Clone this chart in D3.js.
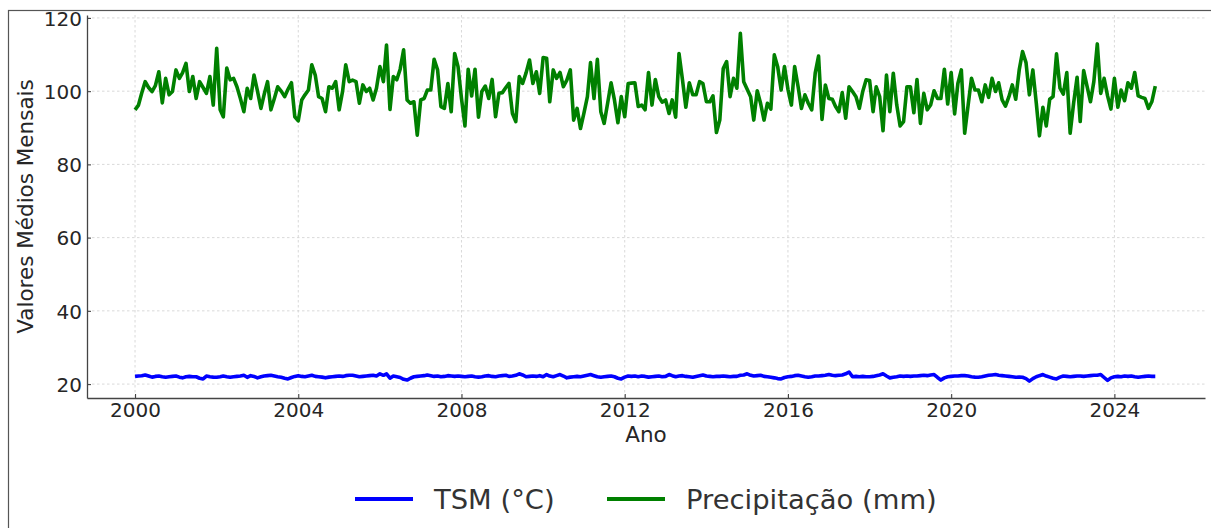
<!DOCTYPE html>
<html>
<head>
<meta charset="utf-8">
<script src="https://cdn.jsdelivr.net/npm/d3@7"></script>
<style>
  body { margin: 0; background: #fff; }
  svg { display: block; font-family: "DejaVu Sans", sans-serif; }
</style>
</head>
<body>
<svg id="chart" width="1211" height="528"></svg>
<script>
// monthly means, Jan 2000 .. Jan 2025
const startMonth = new Date(2000, 0, 1);
const endMonth = new Date(2025, 1, 1);

const tsm = [
  22.1, 22.2, 22.3, 22.5, 22.2, 21.9, 22.1, 22.2, 22.0, 21.85, 22.0, 22.1,
  22.2, 21.9, 21.7, 22.0, 22.1, 22.0, 22.0, 21.6, 21.4, 22.2, 22.0, 21.9,
  21.85, 22.0, 22.2, 22.0, 21.85, 22.0, 22.1, 22.2, 22.4, 21.85, 22.3, 22.1,
  21.7, 22.0, 22.2, 22.3, 22.4, 22.2, 22.0, 21.85, 21.6, 21.4, 21.8, 22.1,
  22.3, 22.1, 22.0, 22.2, 22.4, 22.1, 22.0, 21.9, 21.7, 21.9, 22.0, 22.1,
  22.2, 22.1, 22.3, 22.4, 22.4, 22.2, 22.0, 22.1, 22.2, 22.3, 22.4, 22.2,
  22.8, 22.4, 22.8, 21.6, 22.2, 22.0, 21.8, 21.3, 21.1, 21.6, 22.0, 22.1,
  22.2, 22.3, 22.5, 22.3, 22.1, 22.2, 22.0, 22.1, 22.3, 22.2, 22.1, 22.2,
  22.1, 22.0, 22.1, 22.2, 22.0, 21.9, 22.0, 22.2, 22.3, 22.1, 22.0, 22.2,
  22.3, 22.4, 22.1, 22.2, 22.4, 22.8, 22.5, 22.0, 22.1, 22.2, 22.1, 22.3,
  22.0, 22.6, 22.2, 22.0, 22.3, 22.6, 22.2, 21.7, 21.9, 22.0, 22.1, 22.0,
  22.2, 22.4, 22.6, 22.3, 22.0, 21.85, 22.0, 22.1, 22.2, 22.0, 21.6, 21.4,
  21.9, 22.2, 22.1, 22.2, 22.0, 22.2, 22.1, 21.9, 22.0, 22.1, 22.2, 22.0,
  22.1, 22.6, 22.3, 22.0, 22.2, 22.3, 22.1, 22.0, 21.85, 22.1, 22.3, 22.5,
  22.2, 22.1, 22.0, 22.1, 22.1, 22.2, 22.1, 22.0, 22.1, 22.1, 22.4, 22.5,
  22.8, 22.4, 22.2, 22.3, 22.4, 22.1, 22.0, 21.85, 21.7, 21.5, 21.4, 21.8,
  22.0, 22.1, 22.3, 22.4, 22.2, 22.0, 21.85, 22.0, 22.2, 22.2, 22.3, 22.4,
  22.6, 22.4, 22.3, 22.4, 22.5, 22.8, 23.3, 22.0, 22.1, 22.0, 22.1, 22.0,
  22.0, 22.1, 22.3, 22.5, 22.8, 22.2, 21.7, 21.85, 22.0, 22.2, 22.1, 22.2,
  22.1, 22.2, 22.2, 22.3, 22.4, 22.3, 22.5, 22.6, 21.8, 21.1, 21.7, 22.0,
  22.1, 22.2, 22.2, 22.3, 22.3, 22.2, 22.0, 21.9, 21.85, 22.0, 22.2, 22.4,
  22.5, 22.6, 22.4, 22.3, 22.2, 22.1, 22.0, 21.85, 21.9, 21.85, 21.5, 20.8,
  21.5, 22.0, 22.3, 22.6, 22.2, 21.9, 21.6, 21.4, 21.9, 22.2, 22.1, 22.0,
  22.1, 22.2, 22.2, 22.1, 22.2, 22.3, 22.4, 22.4, 22.6, 21.8, 21.0, 21.7,
  22.0, 22.1, 22.0, 22.2, 22.1, 22.2, 22.0, 21.85, 22.0, 22.1, 22.2, 22.1,
  22.1
];

const precip = [
  94.9, 96.2, 99.5, 102.6, 101.0, 99.9, 101.5, 105.3, 96.8, 103.5, 99.0, 99.9,
  105.8, 103.5, 105.0, 107.6, 99.9, 104.0, 98.0, 102.6, 101.0, 99.4, 104.0, 96.2,
  111.7, 94.9, 93.0, 106.3, 103.1, 103.5, 101.2, 98.0, 94.4, 100.8, 98.0, 104.4,
  100.0, 95.3, 99.0, 102.6, 94.9, 98.0, 101.2, 100.0, 98.5, 100.5, 102.3, 93.0,
  91.9, 97.6, 99.0, 100.3, 107.2, 104.4, 98.5, 98.0, 94.4, 101.2, 100.8, 102.6,
  94.9, 100.0, 107.2, 102.6, 103.0, 102.6, 96.7, 101.7, 99.9, 100.8, 97.6, 100.8,
  106.7, 102.6, 112.6, 95.0, 104.0, 103.1, 106.0, 111.3, 97.6, 96.7, 97.1, 88.0,
  97.6, 98.0, 100.3, 100.3, 108.7, 105.8, 95.8, 95.3, 102.1, 94.4, 110.3, 106.7,
  98.0, 90.5, 106.0, 98.7, 106.0, 92.9, 99.9, 101.4, 98.0, 103.2, 93.0, 99.4,
  99.6, 101.0, 102.1, 93.9, 91.7, 104.0, 102.1, 105.0, 108.5, 102.1, 105.3, 99.4,
  109.2, 109.0, 97.1, 105.8, 103.5, 105.1, 101.2, 103.0, 105.8, 92.1, 95.3, 89.8,
  94.0, 98.5, 107.8, 98.0, 108.7, 94.4, 91.2, 96.7, 102.3, 97.6, 91.4, 98.5,
  93.0, 102.1, 102.2, 102.3, 95.8, 96.2, 94.9, 105.1, 96.2, 103.2, 98.5, 97.0,
  97.6, 93.9, 97.6, 92.9, 110.3, 103.1, 95.6, 102.3, 99.0, 99.0, 102.6, 102.1,
  97.1, 97.1, 98.7, 88.7, 92.1, 106.2, 108.1, 98.5, 103.5, 100.8, 115.8, 102.6,
  100.5, 98.5, 92.1, 100.1, 96.7, 92.1, 96.7, 95.1, 109.9, 106.7, 100.3, 106.7,
  100.5, 96.2, 106.7, 101.2, 95.3, 99.0, 96.7, 94.9, 104.9, 109.6, 92.3, 101.7,
  98.0, 97.8, 95.9, 94.4, 99.6, 92.6, 101.2, 99.9, 98.5, 95.3, 100.0, 103.1,
  102.9, 94.4, 101.2, 98.5, 89.2, 104.4, 94.4, 104.9, 96.2, 90.5, 91.7, 101.2,
  101.2, 94.1, 103.2, 91.2, 99.4, 94.9, 96.2, 100.1, 98.0, 98.0, 106.0, 96.5,
  105.1, 93.8, 102.1, 105.8, 88.5, 96.2, 103.5, 100.3, 100.3, 97.1, 101.7, 98.3,
  103.5, 99.9, 102.3, 97.6, 95.9, 98.5, 101.7, 97.8, 105.8, 110.8, 107.8, 99.0,
  105.8, 96.7, 87.8, 95.6, 90.5, 97.8, 98.5, 110.2, 100.8, 99.2, 105.1, 88.5,
  96.7, 103.8, 91.7, 105.6, 101.4, 97.1, 102.6, 112.9, 99.4, 103.5, 98.7, 95.1,
  103.5, 95.6, 100.3, 97.4, 102.3, 100.8, 105.1, 98.7, 98.3, 98.0, 95.3, 97.1,
  101.4
];

const yTicks = [20, 40, 60, 80, 100, 120];
const xTickYears = [2000, 2004, 2008, 2012, 2016, 2020, 2024];
const seriesNames = ["TSM (°C)", "Precipitação (mm)"];
const seriesColors = ["#0000ff", "#008000"];

const months = d3.timeMonth.range(startMonth, endMonth);

const svg = d3.select("#chart");
const plotLeft = 87, plotRight = 1205, plotTop = 15, plotBottom = 398;

// figure frame (cropped at right / bottom)
svg.append("rect")
  .attr("x", 8.5).attr("y", 10.5)
  .attr("width", 1400).attr("height", 700)
  .attr("fill", "none")
  .attr("stroke", "#555")
  .attr("stroke-width", 1.2);

const x = d3.scaleTime()
  .domain([new Date(1998, 9, 28), new Date(2026, 2, 22)])
  .range([plotLeft, plotRight]);
const y = d3.scaleLinear()
  .domain([16.2, 120.8])
  .range([plotBottom, plotTop]);

// grid
const grid = svg.append("g")
  .attr("stroke", "#cfcfcf")
  .attr("stroke-width", 0.8)
  .attr("stroke-dasharray", "2.5,2.5");
grid.selectAll(".gx").data(xTickYears).enter().append("line")
  .attr("x1", d => x(new Date(d, 0, 1))).attr("x2", d => x(new Date(d, 0, 1)))
  .attr("y1", plotTop).attr("y2", plotBottom);
grid.selectAll(".gy").data(yTicks).enter().append("line")
  .attr("x1", plotLeft).attr("x2", plotRight)
  .attr("y1", d => y(d)).attr("y2", d => y(d));

// axes, ticks pointing inward
const xAxis = svg.append("g")
  .attr("transform", `translate(0,${plotBottom})`)
  .call(d3.axisBottom(x)
    .tickValues(xTickYears.map(d => new Date(d, 0, 1)))
    .tickFormat(d3.timeFormat("%Y"))
    .tickSizeInner(-4).tickSizeOuter(0).tickPadding(5));
const yAxis = svg.append("g")
  .attr("transform", `translate(${plotLeft},0)`)
  .call(d3.axisLeft(y)
    .tickValues(yTicks)
    .tickSizeInner(-4).tickSizeOuter(0).tickPadding(5));

[xAxis, yAxis].forEach(g => {
  g.select(".domain").attr("stroke", "#444").attr("stroke-width", 1.3);
  g.selectAll(".tick line").attr("stroke", "#444").attr("stroke-width", 1.1);
  g.selectAll(".tick text")
    .attr("fill", "#262626")
    .style("font-size", "20px")
    .style("font-family", "DejaVu Sans, sans-serif");
});
xAxis.selectAll(".tick text").attr("dy", "0.71em");
yAxis.selectAll(".tick text").attr("dy", "0.36em");

// series
const line = d3.line()
  .x((d, i) => x(months[i]))
  .y(d => y(d));

svg.append("path")
  .datum(tsm)
  .attr("fill", "none")
  .attr("stroke", seriesColors[0])
  .attr("stroke-width", 3.6)
  .attr("stroke-linejoin", "round")
  .attr("d", line);

svg.append("path")
  .datum(precip)
  .attr("fill", "none")
  .attr("stroke", seriesColors[1])
  .attr("stroke-width", 3.6)
  .attr("stroke-linejoin", "round")
  .attr("d", line);

// axis titles
svg.append("text")
  .attr("x", (plotLeft + plotRight) / 2)
  .attr("y", 442)
  .attr("text-anchor", "middle")
  .attr("fill", "#262626")
  .style("font-size", "21.5px")
  .text("Ano");

svg.append("text")
  .attr("transform", `translate(33,${(plotTop + plotBottom) / 2}) rotate(-90)`)
  .attr("text-anchor", "middle")
  .attr("fill", "#262626")
  .style("font-size", "21.5px")
  .text("Valores Médios Mensais");

// legend
const legendX = [355, 607];
const legend = svg.append("g");
seriesNames.forEach((name, i) => {
  legend.append("line")
    .attr("x1", legendX[i]).attr("x2", legendX[i] + 58)
    .attr("y1", 499).attr("y2", 499)
    .attr("stroke", seriesColors[i])
    .attr("stroke-width", 4);
  legend.append("text")
    .attr("x", legendX[i] + 79)
    .attr("y", 509)
    .attr("fill", "#333")
    .style("font-size", "27.4px")
    .text(name);
});
</script>
</body>
</html>
